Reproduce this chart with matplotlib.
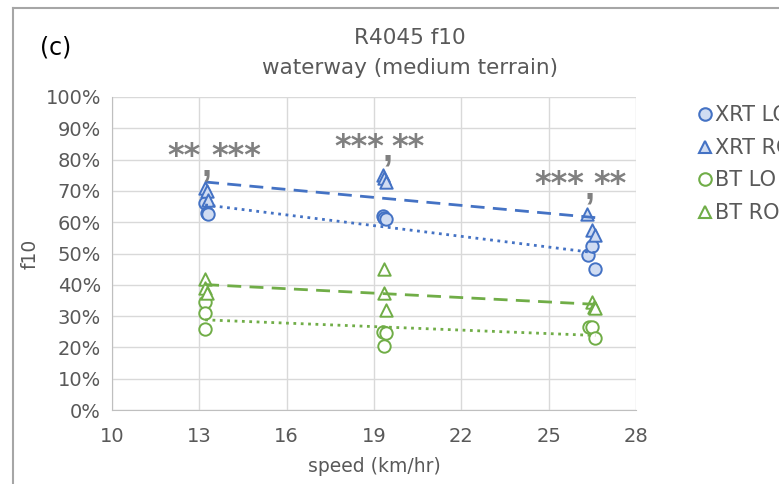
import matplotlib
matplotlib.use("Agg")
import matplotlib.pyplot as plt
import numpy as np
from matplotlib.ticker import FuncFormatter
from matplotlib.lines import Line2D

# Data (speed km/hr, f10 %)
xrt_lo_x = [13.2, 13.25, 13.3, 19.3, 19.35, 19.4, 26.35, 26.5, 26.6]
xrt_lo_y = [66, 63, 62.5, 62, 61.5, 61, 49.5, 52.5, 45]
xrt_ro_x = [13.2, 13.25, 13.3, 19.3, 19.35, 19.4, 26.3, 26.5, 26.6]
xrt_ro_y = [71, 70, 67, 75, 74, 73, 62.5, 57.5, 56]
bt_lo_x = [13.2, 13.2, 13.2, 19.3, 19.4, 19.35, 26.4, 26.5, 26.6]
bt_lo_y = [34.5, 31, 26, 25, 24.5, 20.5, 26.5, 26.5, 23]
bt_ro_x = [13.2, 13.2, 13.25, 19.35, 19.35, 19.4, 26.5, 26.55, 26.6]
bt_ro_y = [42, 39, 37.5, 45, 37.5, 32, 34.5, 33, 32.5]

sig_left = ["**", "***", "***"]
sig_right = ["***", "**", "**"]

x_ticks = [10, 13, 16, 19, 22, 25, 28]
y_ticks = list(range(0, 101, 10))

# annotation layout (data coords)
sig_left_pos = [(13.05, 81.0), (19.36, 84.0), (26.23, 72.0)]
sig_right_pos = [(13.42, 81.0), (19.6, 84.0), (26.54, 72.0)]
sig_comma_pos = [(13.26, 78.0), (19.45, 82.6), (26.39, 70.6)]

BLUE = "#4472C4"
BLUE_FILL = "#D0DCF2"
GREEN = "#70AD47"
GRAY = "#595959"
STAR = "#808080"

fig = plt.figure(figsize=(7.79, 4.84), dpi=100)
ax = fig.add_axes([112/779, 1-410/484, (636-112)/779, (410-97)/484])

series = [
    ("XRT LO", xrt_lo_x, xrt_lo_y, "o", BLUE, BLUE_FILL, ":"),
    ("XRT RO", xrt_ro_x, xrt_ro_y, "^", BLUE, BLUE_FILL, (0, (5, 3))),
    ("BT LO", bt_lo_x, bt_lo_y, "o", GREEN, "white", ":"),
    ("BT RO", bt_ro_x, bt_ro_y, "^", GREEN, "white", (0, (5, 3))),
]

handles = []
for name, xs, ys, m, ec, fc, ls in series:
    xs = np.array(xs); ys = np.array(ys)
    ax.scatter(xs, ys, marker=m, s=80, facecolors=fc, edgecolors=ec,
               linewidths=1.4, zorder=3)
    k, b = np.polyfit(xs, ys, 1)
    xx = np.array([xs.min(), xs.max()])
    ax.plot(xx, k*xx + b, color=ec, linestyle=ls, linewidth=2, zorder=4)
    handles.append(Line2D([], [], marker=m, linestyle="none", markersize=9,
                          markerfacecolor=fc, markeredgecolor=ec,
                          markeredgewidth=1.5, label=name))

for l, r, pl, pr, pc in zip(sig_left, sig_right, sig_left_pos,
                            sig_right_pos, sig_comma_pos):
    ax.text(pl[0], pl[1], l, ha="right", va="center", fontsize=23,
            fontweight="bold", color=STAR, zorder=5)
    ax.text(pr[0], pr[1], r, ha="left", va="center", fontsize=23,
            fontweight="bold", color=STAR, zorder=5)
    ax.text(pc[0], pc[1], ",", ha="center", va="center", fontsize=26,
            fontweight="bold", color=STAR, zorder=5,
            family="Liberation Sans")

ax.set_xlim(10, 28)
ax.set_ylim(0, 100)
ax.set_xticks(x_ticks)
ax.set_yticks(y_ticks)
ax.yaxis.set_major_formatter(FuncFormatter(lambda v, p: f"{int(v)}%"))
ax.grid(True, color="#D9D9D9", linewidth=1)
ax.set_axisbelow(True)
for s in ["top", "right"]:
    ax.spines[s].set_visible(False)
for s in ["left", "bottom"]:
    ax.spines[s].set_color("#BFBFBF")
ax.tick_params(length=0, labelsize=14, labelcolor=GRAY)
ax.tick_params(axis="x", pad=12)
ax.tick_params(axis="y", pad=8)

ax.set_xlabel("speed (km/hr)", fontsize=13.5, color=GRAY, labelpad=8)
ax.set_ylabel("f10", fontsize=13.5, color=GRAY, labelpad=4)

fig.text(410/779, 1-38/484, "R4045 f10", ha="center", va="center",
         fontsize=15.5, color=GRAY)
fig.text(410/779, 1-68/484, "waterway (medium terrain)", ha="center",
         va="center", fontsize=15.5, color=GRAY)
fig.text(40/779, 1-48/484, "(c)", ha="left", va="center", fontsize=17,
         color="black")

leg = fig.legend(handles=handles, loc="upper left",
                 bbox_to_anchor=(686/779, 1-97/484), frameon=False,
                 fontsize=15, labelcolor=GRAY, handletextpad=0.0,
                 handlelength=1.0, labelspacing=0.6, borderaxespad=0)

# outer chart border (top and left visible)
fig.add_artist(Line2D([13/779, 1], [1-8/484, 1-8/484], color="#A6A6A6",
                      linewidth=1.5, transform=fig.transFigure))
fig.add_artist(Line2D([13/779, 13/779], [0, 1-8/484], color="#A6A6A6",
                      linewidth=1.5, transform=fig.transFigure))

fig.savefig("out.png", dpi=100)
